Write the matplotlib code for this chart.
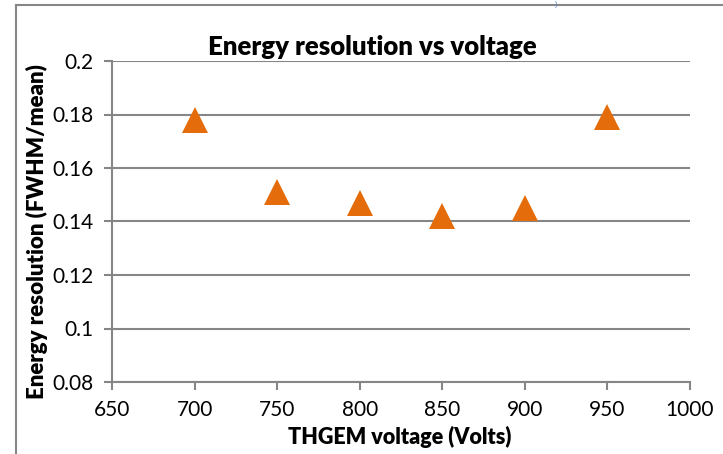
import matplotlib.pyplot as plt
from matplotlib.lines import Line2D

voltage = [700, 750, 800, 850, 900, 950]
resolution = [0.178, 0.151, 0.147, 0.142, 0.145, 0.179]

x_ticks = [650, 700, 750, 800, 850, 900, 950, 1000]
y_ticks = [0.08, 0.1, 0.12, 0.14, 0.16, 0.18, 0.2]
y_tick_labels = ['0.08', '0.1', '0.12', '0.14', '0.16', '0.18', '0.2']

ORANGE = '#E46C0A'
GRID = '#868686'

plt.rcParams['font.family'] = ['Lato', 'DejaVu Sans']

fig = plt.figure(figsize=(7.23, 4.54), dpi=100)
ax = fig.add_axes([112 / 723, 1 - 382 / 454, (690 - 112) / 723, (382 - 61) / 454])

ax.plot(voltage, resolution, linestyle='none', marker='^', markersize=19,
        color=ORANGE, markeredgewidth=0, zorder=3, clip_on=False)

ax.set_xlim(650, 1000)
ax.set_ylim(0.08, 0.2)
ax.set_xticks(x_ticks)
ax.set_yticks(y_ticks)
ax.set_yticklabels(y_tick_labels)

ax.grid(axis='y', color=GRID, linewidth=1.5)
ax.set_axisbelow(True)
for side in ['top', 'right']:
    ax.spines[side].set_visible(False)
for side in ['left', 'bottom']:
    ax.spines[side].set_color(GRID)
    ax.spines[side].set_linewidth(1.5)
ax.tick_params(axis='both', direction='out', length=6, width=1.5, color=GRID,
               labelsize=15, pad=7)

fig.text(372 / 723, 1 - 47 / 454, 'Energy resolution vs voltage', ha='center',
         va='center', fontsize=18.5, fontweight='heavy')
fig.text(400 / 723, 1 - 437 / 454, 'THGEM voltage (Volts)', ha='center',
         va='center', fontsize=15.5, fontweight='heavy')
fig.text(37 / 723, 1 - 232 / 454, 'Energy resolution (FWHM/mean)', ha='center',
         va='center', rotation=90, fontsize=16, fontweight='heavy')

# frame lines of the surrounding page
fig.add_artist(Line2D([16 / 723, 1], [1 - 5 / 454, 1 - 5 / 454], color=GRID, linewidth=1.5))
fig.add_artist(Line2D([16 / 723, 16 / 723], [0, 1 - 5 / 454], color=GRID, linewidth=1.5))
fig.text(556 / 723, 1 - 0.5 / 454, ')', color='#4F81BD', fontsize=6, ha='center', va='top')

fig.savefig('out.png', dpi=100)
